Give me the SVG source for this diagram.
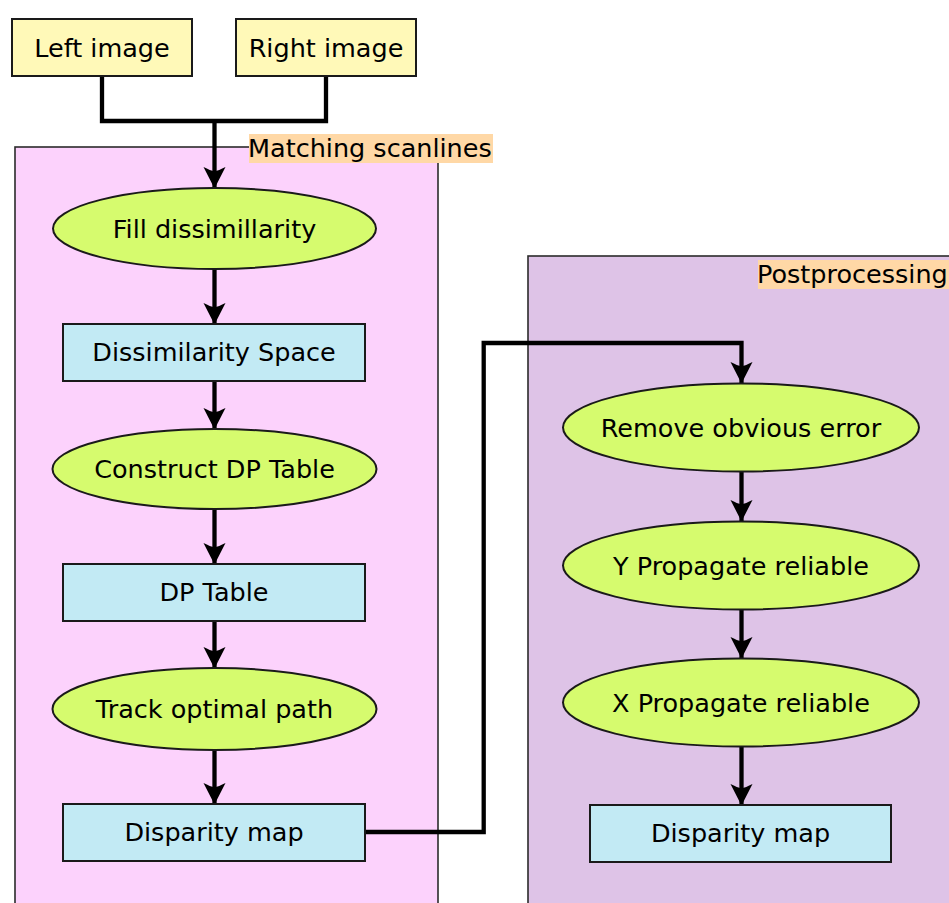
<svg xmlns="http://www.w3.org/2000/svg" width="949" height="903" viewBox="0 0 949 903">
  <style>
    text { font-family: "DejaVu Sans", "Liberation Sans", sans-serif; font-size: 25.5px; fill: #000; text-anchor: middle; }
    .label { text-anchor: start; }
    .input { fill: #fff9b8; stroke: #1a1a1a; stroke-width: 2; }
    .process { fill: #d6fb6e; stroke: #1a1a1a; stroke-width: 2; }
    .data { fill: #c2eaf4; stroke: #1a1a1a; stroke-width: 2; }
    .group { stroke: #2b2b2b; stroke-width: 1.6; }
    .tag { fill: #ffd8a6; }
    .flow { fill: none; stroke: #000; stroke-width: 4.3; }
  </style>
  <defs>
    <!-- barbed arrowhead, tip at the end of the path -->
    <marker id="arrow" viewBox="-23 -12 24 24" refX="0" refY="0" markerWidth="24" markerHeight="24" markerUnits="userSpaceOnUse" orient="auto">
      <path d="M0.5,0 L-21,-11 Q-17.5,-4 -16.5,0 Q-17.5,4 -21,11 Z" fill="#000"/>
    </marker>
  </defs>

  <!-- containers -->
  <g id="matching-scanlines">
    <rect class="group" x="15" y="147" width="423" height="780" fill="#fcd2fc"/>
    <rect class="tag" x="249" y="134" width="244" height="29"/>
    <text class="label" x="248" y="157">Matching scanlines</text>
  </g>
  <g id="postprocessing">
    <rect class="group" x="528" y="256" width="440" height="680" fill="#dec3e7"/>
    <rect class="tag" x="758" y="260" width="200" height="29"/>
    <text class="label" x="757" y="283">Postprocessing</text>
  </g>

  <!-- connectors -->
  <g id="connectors">
    <path class="flow" d="M102,76 V121 H326 V76"/>
    <path class="flow" d="M214.5,121 V188" marker-end="url(#arrow)"/>
    <path class="flow" d="M214.5,269 V324" marker-end="url(#arrow)"/>
    <path class="flow" d="M214.5,381 V429" marker-end="url(#arrow)"/>
    <path class="flow" d="M214.5,509 V564" marker-end="url(#arrow)"/>
    <path class="flow" d="M214.5,621 V668" marker-end="url(#arrow)"/>
    <path class="flow" d="M214.5,750 V804" marker-end="url(#arrow)"/>
    <path class="flow" d="M366,832 H483.7 V343 H741.5 V383" marker-end="url(#arrow)"/>
    <path class="flow" d="M741.5,472 V521" marker-end="url(#arrow)"/>
    <path class="flow" d="M741.5,609 V658" marker-end="url(#arrow)"/>
    <path class="flow" d="M741.5,747 V805" marker-end="url(#arrow)"/>
  </g>

  <!-- inputs -->
  <g id="left-image">
    <rect class="input" x="12" y="19" width="180" height="57"/>
    <text x="102" y="56.5">Left image</text>
  </g>
  <g id="right-image">
    <rect class="input" x="236" y="19" width="180" height="57"/>
    <text x="326" y="56.5">Right image</text>
  </g>

  <!-- matching scanlines steps -->
  <g id="fill-dissimilarity">
    <ellipse class="process" cx="214.5" cy="228.5" rx="161.5" ry="40.5"/>
    <text x="214.5" y="237.5">Fill dissimillarity</text>
  </g>
  <g id="dissimilarity-space">
    <rect class="data" x="63" y="324" width="302" height="57"/>
    <text x="214" y="361">Dissimilarity Space</text>
  </g>
  <g id="construct-dp-table">
    <ellipse class="process" cx="214.5" cy="469" rx="162" ry="40"/>
    <text x="214.5" y="478">Construct DP Table</text>
  </g>
  <g id="dp-table">
    <rect class="data" x="63" y="564" width="302" height="57"/>
    <text x="214" y="601">DP Table</text>
  </g>
  <g id="track-optimal-path">
    <ellipse class="process" cx="214.5" cy="709" rx="162" ry="41"/>
    <text x="214.5" y="718">Track optimal path</text>
  </g>
  <g id="disparity-map-raw">
    <rect class="data" x="63" y="804" width="302" height="57"/>
    <text x="214" y="841">Disparity map</text>
  </g>

  <!-- postprocessing steps -->
  <g id="remove-obvious-error">
    <ellipse class="process" cx="741" cy="427.5" rx="178" ry="44"/>
    <text x="741" y="436.5">Remove obvious error</text>
  </g>
  <g id="y-propagate-reliable">
    <ellipse class="process" cx="741" cy="565.5" rx="178" ry="44"/>
    <text x="741" y="574.5">Y Propagate reliable</text>
  </g>
  <g id="x-propagate-reliable">
    <ellipse class="process" cx="741" cy="702.5" rx="178" ry="44"/>
    <text x="741" y="711.5">X Propagate reliable</text>
  </g>
  <g id="disparity-map-final">
    <rect class="data" x="590" y="805" width="301" height="57"/>
    <text x="740.5" y="842">Disparity map</text>
  </g>
</svg>
